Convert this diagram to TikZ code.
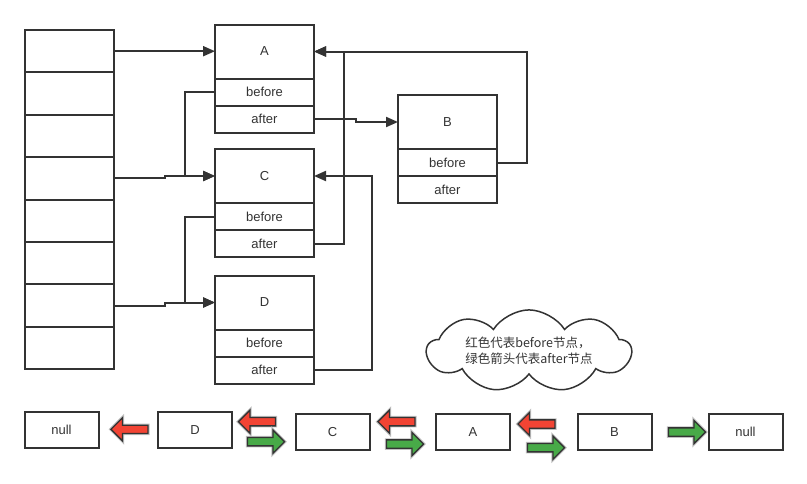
\documentclass[tikz,border=0pt]{standalone}
\usepackage{fontspec}
\setmainfont{Liberation Sans}
\newfontfamily\cjk{Noto Sans CJK SC}
\usetikzlibrary{arrows.meta, positioning, shapes.arrows, shapes.symbols}
\definecolor{linegray}{RGB}{51,51,51}
\definecolor{arrowred}{RGB}{242,68,52}
\definecolor{arrowgreen}{RGB}{72,170,72}

\begin{document}
\begin{tikzpicture}[
  x=1pt, y=-1pt,
  every node/.style={font=\fontsize{13}{15}\selectfont, text=linegray},
  cell/.style={draw=linegray, line width=2pt, minimum width=89pt, minimum height=42.4pt, inner sep=0pt, outer sep=0pt},
  head/.style={draw=linegray, line width=2pt, minimum width=99pt, minimum height=54pt, inner sep=0pt, outer sep=0pt},
  field/.style={head, minimum height=27pt},
  listbox/.style={draw=linegray, line width=2pt, minimum width=74pt, minimum height=36pt, inner sep=0pt},
  link/.style={draw=linegray, line width=2pt, -{Triangle[length=12pt, width=10pt]}},
  blockarrow/.style={single arrow, draw=linegray, line width=1.3pt, minimum height=37pt, inner sep=3.5pt,
    single arrow head extend=7.5pt, preaction={draw=gray!50, line width=3.2pt}},
  redarrow/.style={blockarrow, fill=arrowred, shape border rotate=180},
  greenarrow/.style={blockarrow, fill=arrowgreen}
]
  \useasboundingbox (0,0) rectangle (807,483);

  % Bucket array
  \foreach \i in {1,...,8} {
    \node[cell] (cell\i) at (69.5, 30+42.4*\i-21.2) {};
  }

  % Entries
  \node[head] (Ahead) at (264.5, 51.5) {A};
  \node[field, below=0pt of Ahead] (Abef) {before};
  \node[field, below=0pt of Abef] (Aaft) {after};

  \node[head] (Chead) at (264.5, 176) {C};
  \node[field, below=0pt of Chead] (Cbef) {before};
  \node[field, below=0pt of Cbef] (Caft) {after};

  \node[head] (Dhead) at (264.5, 302.5) {D};
  \node[field, below=0pt of Dhead] (Dbef) {before};
  \node[field, below=0pt of Dbef] (Daft) {after};

  \node[head] (Bhead) at (447.5, 122) {B};
  \node[field, below=0pt of Bhead] (Bbef) {before};
  \node[field, below=0pt of Bbef] (Baft) {after};

  % Links
  \draw[link] (cell1.east) -- (cell1.east -| Ahead.west);
  \draw[link] (cell4.east) -- ++(51,0) |- (Chead.west);
  \draw[link] (cell7.east) -- ++(51,0) |- (Dhead.west);
  \draw[link] (Abef.west) -- ++(-30,0) |- (Chead.west);
  \draw[link] (Cbef.west) -- ++(-30,0) |- (Dhead.west);
  \draw[link] (Aaft.east) -- ++(42,0) |- (Bhead.west);
  \draw[link] (Bbef.east) -- ++(30,0) |- (Ahead.east);
  \draw[link] (Caft.east) -- ++(30,0) |- (Ahead.east);
  \draw[link] (Daft.east) -- ++(58,0) |- (Chead.east);

  % Note
  \node[cloud, draw=linegray, line width=1.5pt, cloud puffs=9, cloud puff arc=115, aspect=3.5, inner sep=0pt,
    minimum width=204pt, align=left, font=\cjk\fontsize{12.5}{16}\selectfont] (note) at (529, 351)
    {红色代表before节点，\\绿色箭头代表after节点};

  % Linked order
  \node[listbox] (nullL) at (61.5, 429.5) {null};
  \node[listbox] (listD) at (195, 430) {D};
  \node[listbox] (listC) at (332.5, 432) {C};
  \node[listbox] (listA) at (473, 432) {A};
  \node[listbox] (listB) at (614.5, 432) {B};
  \node[listbox] (nullR) at (745.5, 432) {null};

  \node[redarrow] (bef1) at (131.5, 429.3) {};
  \node[redarrow] (bef2) at (259, 421.7) {};
  \node[greenarrow] (aft2) at (264, 441.7) {};
  \node[redarrow] (bef3) at (398.5, 421.7) {};
  \node[greenarrow] (aft3) at (403, 444) {};
  \node[redarrow] (bef4) at (538.5, 424) {};
  \node[greenarrow] (aft4) at (544, 447.7) {};
  \node[greenarrow] (aft5) at (685, 432) {};
\end{tikzpicture}
\end{document}
